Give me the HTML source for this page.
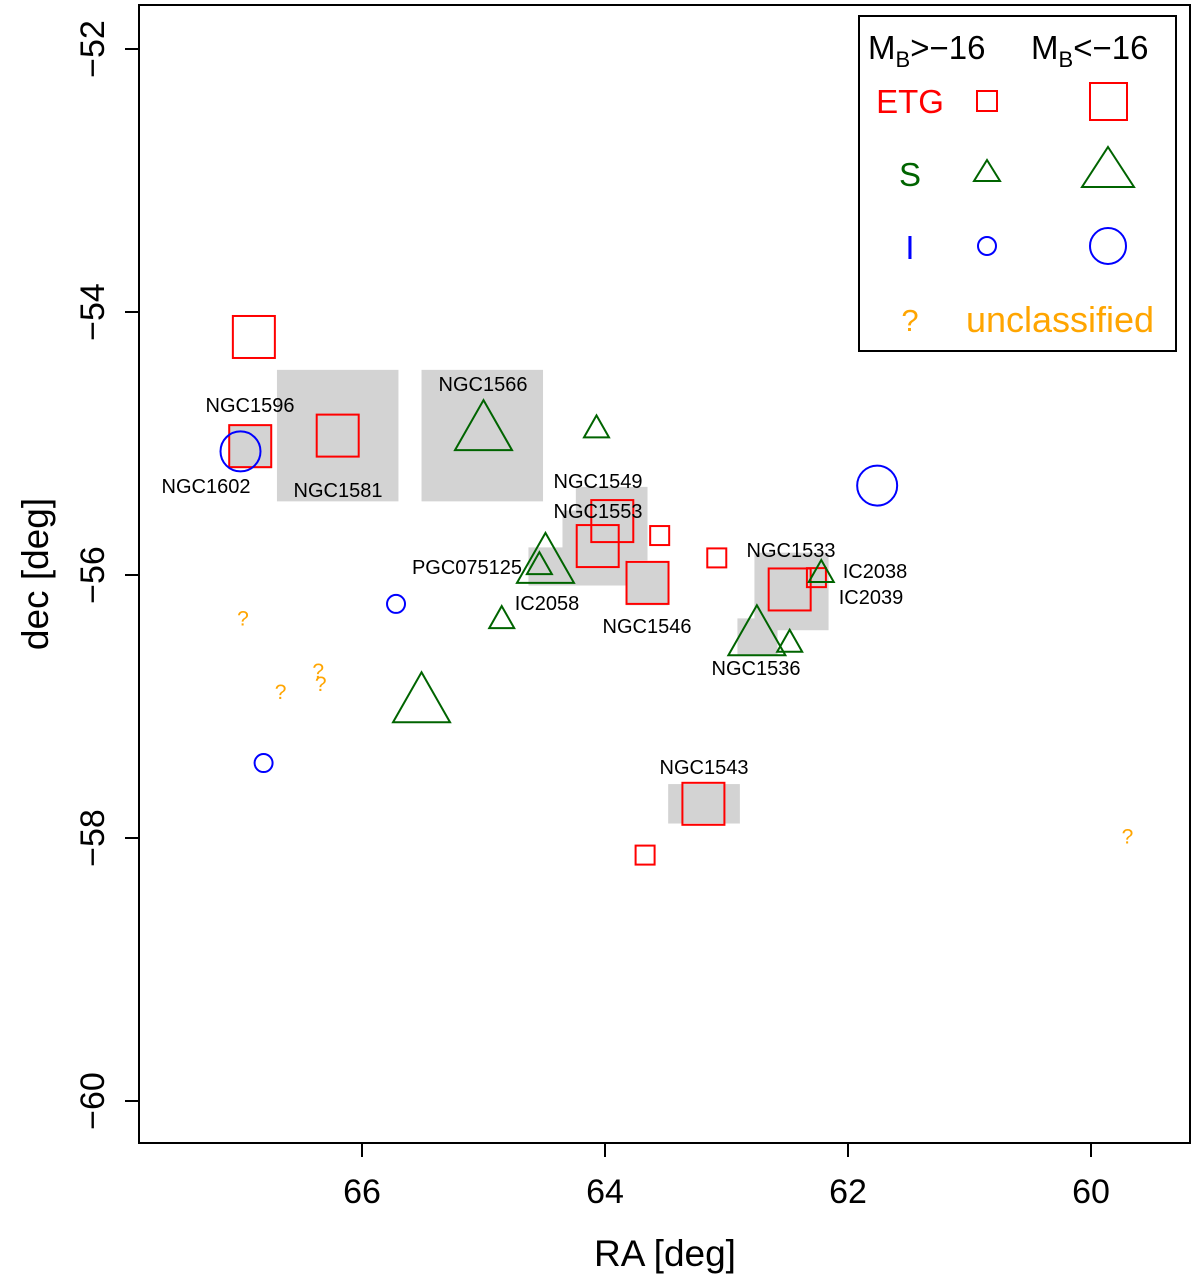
<!DOCTYPE html>
<html><head><meta charset="utf-8"><style>
body{margin:0;background:#fff}
svg{display:block;font-family:"Liberation Sans",Arial,sans-serif}
</style></head><body>
<svg id="chart" width="1200" height="1279" viewBox="0 0 1200 1279">
<g id="boxes"></g>
<g id="marks"></g>
<g id="labels" font-size="20" text-anchor="middle">
<text x="250" y="412">NGC1596</text>
<text x="206" y="493">NGC1602</text>
<text x="338" y="497">NGC1581</text>
<text x="483" y="391">NGC1566</text>
<text x="598" y="488">NGC1549</text>
<text x="598" y="518">NGC1553</text>
<text x="467" y="574">PGC075125</text>
<text x="547" y="610">IC2058</text>
<text x="647" y="633">NGC1546</text>
<text x="791" y="557">NGC1533</text>
<text x="875" y="578">IC2038</text>
<text x="871" y="604">IC2039</text>
<text x="756" y="675">NGC1536</text>
<text x="704" y="774">NGC1543</text>
</g>
<rect x="139" y="5" width="1051" height="1138" fill="none" stroke="#000" stroke-width="2"/>
<g id="axes" font-size="34"></g>
<text x="665" y="1266" font-size="37" text-anchor="middle">RA [deg]</text>
<text transform="translate(48,574) rotate(-90)" font-size="37" text-anchor="middle">dec [deg]</text>
<g>
<rect x="859" y="16" width="317" height="335" fill="#fff" stroke="#000" stroke-width="2"/>
<text x="868" y="59" font-size="33">M<tspan font-size="22" dy="8">B</tspan><tspan dy="-8">&gt;−16</tspan></text>
<text x="1031" y="59" font-size="33">M<tspan font-size="22" dy="8">B</tspan><tspan dy="-8">&lt;−16</tspan></text>
<text x="910" y="113" font-size="33" fill="#f00" text-anchor="middle">ETG</text>
<rect x="977" y="91" width="20" height="20" fill="none" stroke="#f00" stroke-width="2"/>
<rect x="1090" y="83" width="37" height="37" fill="none" stroke="#f00" stroke-width="2"/>
<text x="910" y="186" font-size="33" fill="#006400" text-anchor="middle">S</text>
<polygon points="987,160 1000,181 974,181" fill="none" stroke="#006400" stroke-width="2"/>
<polygon points="1108,147 1134,187 1082,187" fill="none" stroke="#006400" stroke-width="2"/>
<text x="910" y="259" font-size="33" fill="#00f" text-anchor="middle">I</text>
<circle cx="987" cy="246" r="9" fill="none" stroke="#00f" stroke-width="2"/>
<circle cx="1108" cy="246" r="18" fill="none" stroke="#00f" stroke-width="2"/>
<text x="910" y="331" font-size="31" fill="#ffa500" text-anchor="middle">?</text>
<text x="1060" y="332" font-size="36" fill="#ffa500" text-anchor="middle">unclassified</text>
</g>
</svg>
<script>
const xTicks=[66,64,62,60];
const yTicks=[-52,-54,-56,-58,-60];
const bigSqRA=[66.89,66.20,66.92,63.94,64.06,63.65,62.48,63.19];
const bigSqDec=[-54.19,-54.94,-55.02,-55.59,-55.78,-56.06,-56.11,-57.74];
const smSqRA=[63.55,63.08,62.26,63.67];
const smSqDec=[-55.70,-55.87,-56.02,-58.13];
const bigTriRA=[65.00,64.49,65.51,62.75];
const bigTriDec=[-54.86,-55.87,-56.93,-56.42];
const smTriRA=[64.07,64.54,64.85,62.48,62.22];
const smTriDec=[-54.87,-55.91,-56.32,-56.50,-55.97];
const bigCircRA=[67.00,61.76];
const bigCircDec=[-55.06,-55.32];
const smCircRA=[65.72,66.81];
const smCircDec=[-56.22,-57.43];
const unkRA=[66.98,66.67,66.36,66.34,59.70];
const unkDec=[-56.33,-56.89,-56.73,-56.83,-57.99];
const boxRA1=[66.70,65.51,64.24,64.35,64.63,63.83,62.77,62.91,63.48,67.10];
const boxRA2=[65.70,64.51,63.65,63.82,64.26,63.48,62.16,62.58,62.89,66.74];
const boxDec1=[-54.44,-54.44,-55.33,-55.51,-55.79,-55.90,-55.83,-56.33,-57.59,-54.86];
const boxDec2=[-55.44,-55.44,-55.89,-56.08,-56.08,-56.23,-56.42,-56.61,-57.89,-55.19];

const X=ra=>362+(66-ra)*121.5;
const Y=d=>49+(-52-d)*131.5;
const NS='http://www.w3.org/2000/svg';
function mk(tag,parent,attrs){const e=document.createElementNS(NS,tag);for(const k in attrs)e.setAttribute(k,attrs[k]);parent.appendChild(e);return e;}
const boxes=document.getElementById('boxes'),marks=document.getElementById('marks'),axes=document.getElementById('axes');
boxRA1.forEach((r,i)=>{const x1=X(r),x2=X(boxRA2[i]),y1=Y(boxDec1[i]),y2=Y(boxDec2[i]);
const e=mk('rect',boxes,{x:x1,y:y1,width:x2-x1,height:y2-y1,fill:'#d3d3d3'});

});
function sq(ra,dec,s){ra.forEach((r,i)=>{const e=mk('rect',marks,{x:X(r)-s/2,y:Y(dec[i])-s/2,width:s,height:s,fill:'none',stroke:'#f00','stroke-width':2});

});}
function tri(ra,dec,w,h){ra.forEach((r,i)=>{const x=X(r),y=Y(dec[i]);const e=mk('polygon',marks,{points:`${x},${y-h/2} ${x+w/2},${y+h/2} ${x-w/2},${y+h/2}`,fill:'none',stroke:'#006400','stroke-width':2});

});}
function circ(ra,dec,rr){ra.forEach((r,i)=>{const e=mk('circle',marks,{cx:X(r),cy:Y(dec[i]),r:rr,fill:'none',stroke:'#00f','stroke-width':2});

});}
sq(bigSqRA,bigSqDec,42);sq(smSqRA,smSqDec,19);
tri(bigTriRA,bigTriDec,57,50);tri(smTriRA,smTriDec,25,22);
circ(bigCircRA,bigCircDec,20);circ(smCircRA,smCircDec,9);
unkRA.forEach((r,i)=>{const e=mk('text',marks,{x:X(r),y:Y(unkDec[i])+7,'font-size':21,fill:'#ffa500','text-anchor':'middle'});e.textContent='?';

});
xTicks.forEach(t=>{const x=X(t);mk('line',axes,{x1:x,x2:x,y1:1143,y2:1157,stroke:'#000','stroke-width':2});
const e=mk('text',axes,{x:x,y:1203,'text-anchor':'middle'});e.textContent=t;

});
yTicks.forEach(t=>{const y=Y(t);mk('line',axes,{x1:125,x2:139,y1:y,y2:y,stroke:'#000','stroke-width':2});
const e=mk('text',axes,{transform:`translate(104,${y}) rotate(-90)`,'text-anchor':'middle'});e.textContent=String(t).replace('-','−');

});
</script>
</body></html>
